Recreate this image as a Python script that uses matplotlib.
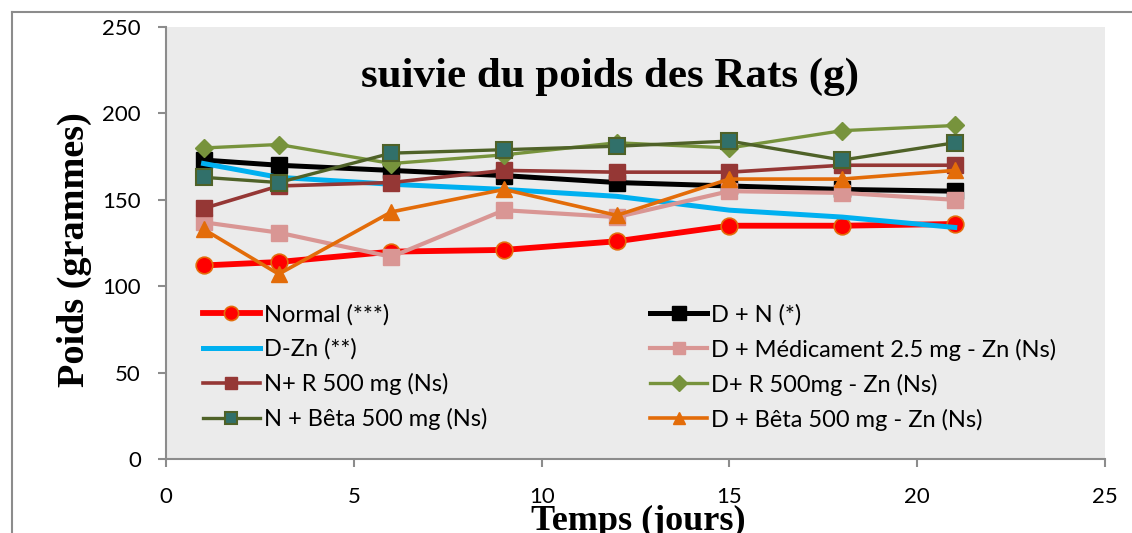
import matplotlib
matplotlib.use("Agg")
import matplotlib.pyplot as plt
from matplotlib.lines import Line2D

# data
jours = [1, 3, 6, 9, 12, 15, 18, 21]
normal = [112, 114, 120, 121, 126, 135, 135, 136]
d_n = [173, 170, 167, 164, 160, 158, 156, 155]
d_zn = [171, 163, 159, 156, 152, 144, 140, 134]
d_medic = [137, 131, 117, 144, 140, 155, 154, 150]
n_r500 = [145, 158, 160, 167, 166, 166, 170, 170]
d_r500 = [180, 182, 171, 176, 183, 180, 190, 193]
n_beta = [163, 160, 177, 179, 181, 184, 173, 183]
d_beta = [133, 107, 143, 156, 141, 162, 162, 167]

labels = ["Normal (***)", "D + N (*)", "D-Zn (**)", "D + Médicament 2.5 mg - Zn (Ns)",
          "N+ R 500 mg (Ns)", "D+ R 500mg - Zn (Ns)", "N + Bêta 500 mg (Ns)",
          "D + Bêta 500 mg - Zn (Ns)"]

W, H = 1132, 533
fig = plt.figure(figsize=(W / 100, H / 100), dpi=100)
fig.patch.set_facecolor("white")

# outer frame (only top and left edges visible)
fig.add_artist(Line2D([12 / W, 12 / W], [0, 1 - 12 / H], transform=fig.transFigure, color="#8c8c8c", lw=1.5))
fig.add_artist(Line2D([12 / W, 1], [1 - 12 / H, 1 - 12 / H], transform=fig.transFigure, color="#8c8c8c", lw=1.5))

ax = fig.add_axes([166 / W, 1 - 459 / H, (1105 - 166) / W, (459 - 27) / H])
ax.set_facecolor("#ebebeb")

series = [
    (normal, dict(color="#ff0000", lw=4.2, marker="o", ms=12, mfc="#ff0000", mec="#e46c0a", mew=1.2)),
    (d_n, dict(color="#000000", lw=3.6, marker="s", ms=12, mfc="#000000", mec="#000000")),
    (d_zn, dict(color="#00b0f0", lw=3.6, marker=None)),
    (d_medic, dict(color="#d99694", lw=3.0, marker="s", ms=11, mfc="#d99694", mec="#d99694")),
    (n_r500, dict(color="#953735", lw=2.6, marker="s", ms=11, mfc="#953735", mec="#953735")),
    (d_r500, dict(color="#77933c", lw=2.4, marker="D", ms=9, mfc="#77933c", mec="#77933c")),
    (n_beta, dict(color="#4f6228", lw=2.4, marker="s", ms=11, mfc="#31706a", mec="#4f6228", mew=1.5)),
    (d_beta, dict(color="#e36c09", lw=2.6, marker="^", ms=11, mfc="#e36c09", mec="#e36c09")),
]
handles = []
for (vals, st), lab in zip(series, labels):
    h, = ax.plot(jours, vals, label=lab, **st)
    handles.append(h)

ax.set_xlim(0, 25)
ax.set_ylim(0, 250)
ax.set_xticks([0, 5, 10, 15, 20, 25])
ax.set_yticks([0, 50, 100, 150, 200, 250])
for s in ["top", "right"]:
    ax.spines[s].set_visible(False)
for s in ["left", "bottom"]:
    ax.spines[s].set_color("#8c8c8c")
    ax.spines[s].set_linewidth(1.5)
ax.tick_params(axis="both", colors="#8c8c8c", width=1.5, length=6, labelcolor="black", labelsize=16)
ax.tick_params(axis="y", pad=12)
ax.tick_params(axis="x", pad=14)
for t in ax.get_xticklabels() + ax.get_yticklabels():
    t.set_family("Lato")

ax.text(0.473, 0.885, "suivie du poids des Rats (g)", transform=ax.transAxes, ha="center", va="center",
        family="Liberation Serif", fontweight="bold", fontsize=31)
fig.text(74 / W, 1 - 250 / H, "Poids (grammes)", rotation=90, ha="center", va="center",
         family="Liberation Serif", fontweight="bold", fontsize=27.5)
fig.text(638 / W, 1 - 530 / H, "Temps (jours)", ha="center", va="baseline",
         family="Liberation Serif", fontweight="bold", fontsize=26)

order = [0, 2, 4, 6, 1, 3, 5, 7]
ax.legend([handles[i] for i in order], [labels[i] for i in order], ncol=2, frameon=False,
          loc="upper left", bbox_to_anchor=(203 / W, 1 - 304 / H), bbox_transform=fig.transFigure,
          borderpad=0, borderaxespad=0, handlelength=2.4, handletextpad=0.18, labelspacing=0.55,
          columnspacing=6.9, prop={"family": "Lato", "size": 17}, numpoints=1, markerscale=0.85)

fig.savefig("out.png", dpi=100)
